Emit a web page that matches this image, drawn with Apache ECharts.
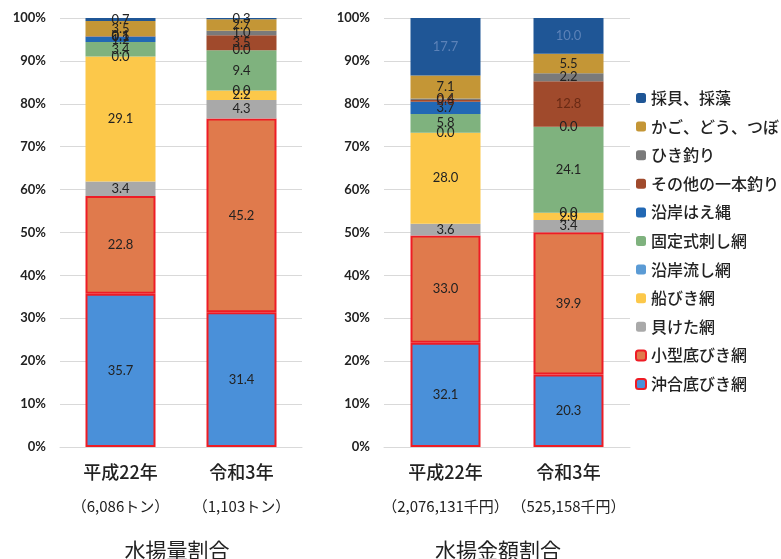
<!DOCTYPE html>
<html><head><meta charset="utf-8">
<script src="https://cdn.jsdelivr.net/npm/echarts@6/dist/echarts.min.js"></script>
<style>html,body{margin:0;padding:0;background:#fff}#c{width:781px;height:559px}</style>
</head><body><div id="c"></div>
<script>
// ---- data ----
const categories = ['平成22年', '令和3年'];
const volumeTotals = ['（6,086トン）', '（1,103トン）'];
const valueTotals = ['（2,076,131千円）', '（525,158千円）'];
const chartTitles = ['水揚量割合', '水揚金額割合'];
// stack order, bottom to top
const gearNames = ['沖合底びき網', '小型底びき網', '貝けた網', '船びき網', '沿岸流し網', '固定式刺し網', '沿岸はえ縄', 'その他の一本釣り', 'ひき釣り', 'かご、どう、つぼ', '採貝、採藻'];
const volumeH22 = [35.7, 22.8, 3.4, 29.1, 0.0, 3.4, 1.2, 0.1, 0.1, 3.5, 0.7];
const volumeR3  = [31.4, 45.2, 4.3, 2.2, 0.0, 9.4, 0.0, 3.5, 1.0, 2.7, 0.3];
const valueH22  = [32.1, 33.0, 3.6, 28.0, 0.0, 5.8, 3.7, 0.6, 0.4, 7.1, 17.7];
const valueR3   = [20.3, 39.9, 3.4, 2.0, 0.0, 24.1, 0.0, 12.8, 2.2, 5.5, 10.0];
const yTicks = [0, 10, 20, 30, 40, 50, 60, 70, 80, 90, 100];

// ---- styles ----
const gearColors = ['#4a90d9', '#e07a4c', '#a9a9a9', '#fcc84a', '#5b9bd5', '#7fb27e', '#2268b4', '#a04a2c', '#7a7a7a', '#c49636', '#1f5696'];
const outlined = { '沖合底びき網': true, '小型底びき網': true };
const numFont = 'Lato, "Noto Sans CJK JP", sans-serif';
const jpFont = '"Noto Sans CJK JP", sans-serif';

function pct(arr) {
  const s = arr.reduce((a, b) => a + b, 0);
  return arr.map(v => v / s * 100);
}

const sets = [
  { grid: 0, cols: [volumeH22, volumeR3] },
  { grid: 1, cols: [valueH22, valueR3] }
];

const series = [];
sets.forEach(set => {
  const p0 = pct(set.cols[0]), p1 = pct(set.cols[1]);
  gearNames.forEach((name, i) => {
    const raw = [set.cols[0][i], set.cols[1][i]];
    series.push({
      type: 'bar',
      name: name,
      stack: 'g' + set.grid,
      xAxisIndex: set.grid,
      yAxisIndex: set.grid,
      barWidth: 70,
      data: [p0[i], p1[i]],
      itemStyle: {
        color: gearColors[i],
        borderColor: outlined[name] ? '#ee1c25' : gearColors[i],
        borderWidth: outlined[name] ? 2 : 0
      },
      label: {
        show: true,
        position: 'inside',
        fontFamily: numFont,
        fontSize: 13,
        color: name === '採貝、採藻' ? (set.grid === 1 ? '#5c82b8' : '#222') : (name === 'その他の一本釣り' && set.grid === 1 ? '#6a2a14' : '#222'),
        formatter: function (pr) { return raw[pr.dataIndex].toFixed(1); }
      },
      emphasis: { disabled: true },
      animation: false
    });
  });
});

function xAxis(idx, totals) {
  return {
    type: 'category',
    gridIndex: idx,
    data: categories,
    axisLine: { lineStyle: { color: '#d9d9d9' } },
    axisTick: { show: false },
    axisLabel: {
      interval: 0,
      hideOverlap: false,
      margin: 8,
      formatter: function (v, i) { return '{a|' + v + '}\n{b|' + totals[i] + '}'; },
      rich: {
        a: { fontFamily: jpFont, fontSize: 18, color: '#222', lineHeight: 34, fontWeight: 500 },
        b: { fontFamily: jpFont, fontSize: 15, color: '#222', lineHeight: 34 }
      }
    }
  };
}
function yAxis(idx) {
  return {
    type: 'value',
    gridIndex: idx,
    min: 0, max: 100, interval: 10,
    axisLine: { show: false },
    axisTick: { show: false },
    splitLine: { lineStyle: { color: '#d9d9d9' } },
    axisLabel: {
      margin: 14,
      fontFamily: numFont, fontSize: 13, fontWeight: 'bold', color: '#222',
      formatter: function (v) { return yTicks.indexOf(v) >= 0 ? v + '%' : ''; }
    }
  };
}

const chart = echarts.init(document.getElementById('c'), null, { renderer: 'canvas' });
chart.setOption({
  animation: false,
  backgroundColor: '#fff',
  grid: [
    { left: 60, width: 242, top: 18, height: 429 },
    { left: 384, width: 246, top: 18, height: 429 }
  ],
  xAxis: [xAxis(0, volumeTotals), xAxis(1, valueTotals)],
  yAxis: [yAxis(0), yAxis(1)],
  legend: {
    orient: 'vertical',
    left: 630,
    top: 85,
    itemWidth: 10,
    itemHeight: 10,
    itemGap: 12.6,
    data: gearNames.slice().reverse(),
    textStyle: { fontFamily: jpFont, fontSize: 16, color: '#222', lineHeight: 16, fontWeight: 500 },
    selectedMode: false
  },
  graphic: [
    { type: 'text', x: 177, y: 550, style: { text: chartTitles[0], align: 'center', verticalAlign: 'middle', font: '21px "Noto Sans CJK JP"', fill: '#222' } },
    { type: 'text', x: 498, y: 550, style: { text: chartTitles[1], align: 'center', verticalAlign: 'middle', font: '21px "Noto Sans CJK JP"', fill: '#222' } }
  ],
  series: series
});
</script></body></html>
